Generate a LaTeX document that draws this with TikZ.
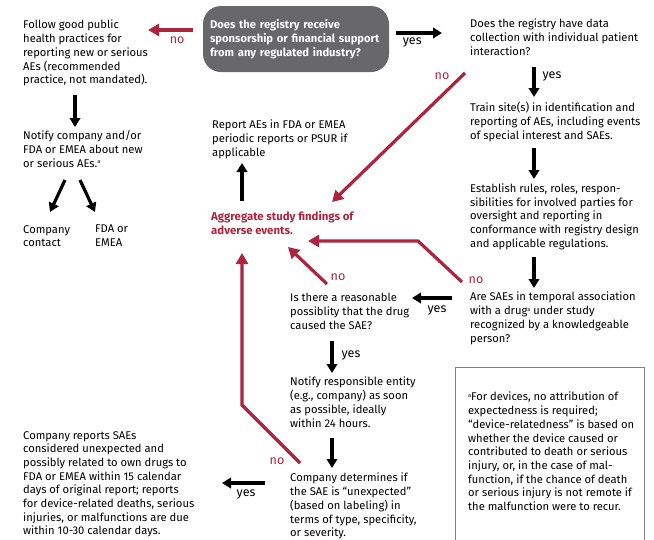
\documentclass[tikz,border=0pt]{standalone}
\usepackage{fontspec}
\setmainfont{Fira Sans}
\usetikzlibrary{arrows.meta,calc,positioning}
\definecolor{flowred}{RGB}{172,36,62}
\definecolor{boxgray}{RGB}{104,104,106}
\newcommand{\supa}{\raisebox{3.6pt}{\fontsize{5.5}{5.5}\selectfont a}}

\begin{document}
\begin{tikzpicture}[x=1pt, y=-1pt,
    every node/.style={inner sep=0pt, font=\fontsize{11.2}{13.7}\selectfont},
    txt/.style={anchor=north west, align=left, execute at begin node=\strut},
    blkarrow/.style={-{Triangle[length=9pt, width=10.5pt]}, line width=3.2pt},
    redarrow/.style={-{Triangle[length=11pt, width=12pt]}, flowred, line width=3.2pt},
    yeslabel/.style={font=\fontsize{12.5}{14}\selectfont},
    nolabel/.style={font=\fontsize{12.5}{14}\selectfont, text=flowred}
]
\useasboundingbox (0,0) rectangle (654,539);

% left column
\node[txt] (follow) at (23,20) {Follow good public\\health practices for\\reporting new or serious\\AEs (recommended\\practice, not mandated).};
\node[txt] (notify) at (23,130.5) {Notify company and/or\\FDA or EMEA about new\\or serious AEs.\supa};
\node[txt] (contact) at (23,225) {Company\\contact};
\node[txt] (fdaemea) at (95,225) {FDA or\\EMEA};
\node[txt] (creports) at (23,431) {Company reports SAEs\\considered unexpected and\\possibly related to own drugs to\\FDA or EMEA within 15 calendar\\days of original report; reports\\for device-related deaths, serious\\injuries, or malfunctions are due\\within 10-30 calendar days.};

% start question
\node[fill=boxgray, rounded corners=18pt, minimum width=186pt, minimum height=66pt,
      text width=172pt, align=left, text=white,
      font=\fontsize{11.2}{13.7}\selectfont\bfseries] (sponsor) at (296,39)
      {Does the registry receive\\sponsorship or financial support\\from any regulated industry?};

% right column
\node[txt] (patient) at (470,19) {Does the registry have data\\collection with individual patient\\interaction?};
\node[txt] (train) at (470,102) {Train site(s) in identification and\\reporting of AEs, including events\\of special interest and SAEs.};
\node[txt] (rules) at (470,183.5) {Establish rules, roles, respon-\\sibilities for involved parties for\\oversight and reporting in\\conformance with registry design\\and applicable regulations.};
\node[txt] (temporal) at (470,292) {Are SAEs in temporal association\\with a drug\supa{} under study\\recognized by a knowledgeable\\person?};

% middle column
\node[txt] (periodic) at (212,120) {Report AEs in FDA or EMEA\\periodic reports or PSUR if\\applicable};
\node[txt, text=flowred, font=\fontsize{11.4}{13.9}\selectfont\bfseries] (aggregate) at (211,211) {Aggregate study findings of\\adverse events.};
\node[txt] (causal) at (290,293) {Is there a reasonable\\possiblity that the drug\\caused the SAE?};
\node[txt] (entity) at (290,377) {Notify responsible entity\\(e.g., company) as soon\\as possible, ideally\\within 24 hours.};
\node[txt] (expected) at (290,473) {Company determines if\\the SAE is “unexpected”\\(based on labeling) in\\terms of type, specificity,\\or severity.};

% footnote
\node[txt] (devnote) at (468,392) {\supa For devices, no attribution of\\expectedness is required;\\“device-relatedness” is based on\\whether the device caused or\\contributed to death or serious\\injury, or, in the case of mal-\\function, if the chance of death\\or serious injury is not remote if\\the malfunction were to recur.};
\draw[gray, line width=0.9pt] ($(devnote.north west)+(-13,153)$) |- ($(devnote.north west)+(176,-25)$) -- ($(devnote.north west)+(176,153)$);

% connectors
\draw[redarrow] ($(sponsor.west)+(-10,-9)$) -- node[nolabel, pos=0.35, yshift=-10pt] {no} ($(follow.north west)+(125,10)$);
\draw[blkarrow] ($(sponsor.east)+(7,-6)$) -- node[yeslabel, pos=0.35, yshift=-9pt] {yes} ($(patient.north west)+(-28,14)$);
\draw[blkarrow] ($(patient.north west)+(64,48)$) -- node[yeslabel, pos=0.33, xshift=18pt] {yes} ($(train.north west)+(64,-5)$);
\draw[redarrow] ($(patient.north west)+(-5,54)$) node[nolabel, xshift=-23pt, yshift=-3pt] {no} -- ($(aggregate.north west)+(121,-9)$);
\draw[blkarrow] ($(train.north west)+(64,46)$) -- ($(rules.north west)+(64,-4.5)$);
\draw[blkarrow] ($(rules.north west)+(64,73.5)$) -- ($(temporal.north west)+(64,-4)$);
\draw[blkarrow] ($(temporal.north west)+(-18,6)$) -- node[yeslabel, pos=0.375, yshift=-12pt] {yes} ($(causal.north west)+(122,5)$);
\draw[redarrow] ($(temporal.north west)+(-8,-10)$) node[nolabel, xshift=14pt, yshift=2pt] {no} -- ++(-44,-41) -- ($(aggregate.north west)+(97,30)$);
\draw[redarrow] ($(causal.north west)+(37,-9)$) node[nolabel, xshift=11pt, yshift=7pt] {no} -- ($(aggregate.north west)+(77,36)$);
\draw[blkarrow] ($(aggregate.north west)+(31,-10)$) -- ($(periodic.north west)+(30,43)$);
\draw[blkarrow] ($(follow.north west)+(52,75)$) -- ($(notify.north west)+(52,-3.5)$);
\draw[blkarrow] ($(notify.north west)+(42,49.5)$) -- ($(contact.north west)+(27,-13)$);
\draw[blkarrow] ($(notify.north west)+(57,49.5)$) -- ($(fdaemea.north west)+(0,-13)$);
\draw[blkarrow] ($(causal.north west)+(42,48)$) -- node[yeslabel, pos=0.44, xshift=19pt] {yes} ($(entity.north west)+(42,-4)$);
\draw[blkarrow] ($(entity.north west)+(42,61)$) -- ($(expected.north west)+(42,-5)$);
\draw[redarrow] ($(expected.north west)+(10,-10)$) node[nolabel, xshift=-23pt, yshift=2pt] {no} -- ++(-58,-58) -- ($(aggregate.north west)+(31,42)$);
\draw[blkarrow] ($(expected.north west)+(-25,10)$) -- node[yeslabel, pos=0.44, yshift=-11pt] {yes} ($(creports.north west)+(199,52)$);
\end{tikzpicture}
\end{document}
